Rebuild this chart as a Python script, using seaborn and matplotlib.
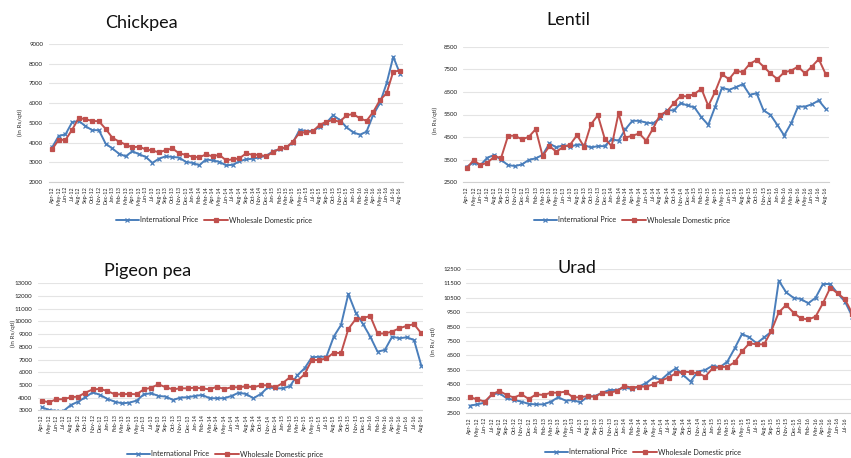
"""
Pulse prices: international vs wholesale domestic (Rs/qtl), Apr-12 to Aug-16.
Four panels laid out like the original composite screenshot.
"""

import matplotlib.pyplot as plt
import pandas as pd
import seaborn as sns
from matplotlib.patches import Rectangle

# ---------------------------------------------------------------------------
# Data
# ---------------------------------------------------------------------------
MONTHS = [
    "Apr-12", "May-12", "Jun-12", "Jul-12", "Aug-12", "Sep-12", "Oct-12", "Nov-12", "Dec-12",
    "Jan-13", "Feb-13", "Mar-13", "Apr-13", "May-13", "Jun-13", "Jul-13", "Aug-13", "Sep-13",
    "Oct-13", "Nov-13", "Dec-13", "Jan-14", "Feb-14", "Mar-14", "Apr-14", "May-14", "Jun-14",
    "Jul-14", "Aug-14", "Sep-14", "Oct-14", "Nov-14", "Dec-14", "Jan-15", "Feb-15", "Mar-15",
    "Apr-15", "May-15", "Jun-15", "Jul-15", "Aug-15", "Sep-15", "Oct-15", "Nov-15", "Dec-15",
    "Jan-16", "Feb-16", "Mar-16", "Apr-16", "May-16", "Jun-16", "Jul-16", "Aug-16",
]

SERIES = ["International Price", "Wholesale Domestic price"]

CHICKPEA_INTL = [3750, 4340, 4410, 5030, 5100, 4830, 4630, 4630, 3950, 3700, 3440, 3300, 3560, 3410,
                 3270, 2970, 3190, 3300, 3270, 3240, 3020, 2970, 2850, 3140, 3100, 3020, 2850, 2870,
                 3050, 3150, 3180, 3250, 3330, 3550, 3650, 3750, 4000, 4650, 4580, 4600, 4800, 5000,
                 5380, 5150, 4780, 4520, 4400, 4550, 5400, 6000, 7000, 8350, 7500]
CHICKPEA_DOM = [3650, 4150, 4130, 4650, 5250, 5180, 5100, 5080, 4700, 4250, 4050, 3900, 3750, 3800,
                3650, 3600, 3500, 3620, 3700, 3450, 3380, 3280, 3250, 3400, 3300, 3380, 3100, 3150,
                3200, 3450, 3380, 3380, 3300, 3500, 3700, 3750, 4050, 4500, 4520, 4580, 4900, 5050,
                5150, 5050, 5380, 5450, 5230, 5100, 5550, 6150, 6500, 7600, 7650]

LENTIL_INTL = [3190, 3370, 3260, 3590, 3710, 3490, 3260, 3220, 3290, 3490, 3560, 3710, 4220, 4040,
               4150, 4070, 4170, 4150, 4040, 4100, 4100, 4410, 4340, 4850, 5220, 5220, 5140, 5110,
               5330, 5700, 5680, 6000, 5900, 5810, 5380, 5040, 5850, 6690, 6590, 6710, 6840, 6370,
               6440, 5680, 5490, 5040, 4570, 5110, 5850, 5850, 5950, 6120, 5750]
LENTIL_DOM = [3120, 3480, 3260, 3370, 3630, 3590, 4560, 4560, 4400, 4510, 4850, 3670, 4100, 3850,
              4070, 4170, 4590, 4070, 5060, 5470, 4430, 4100, 5560, 4480, 4560, 4660, 4340, 4880,
              5480, 5630, 6000, 6320, 6300, 6410, 6640, 5880, 6510, 7280, 7060, 7440, 7370, 7740,
              7910, 7620, 7320, 7070, 7370, 7440, 7620, 7320, 7620, 7950, 7290]

PIGEON_INTL = [3240, 3030, 2950, 2950, 3420, 3680, 4030, 4420, 4210, 3900, 3680, 3550, 3600, 3760,
               4260, 4340, 4130, 4080, 3810, 4000, 4030, 4130, 4210, 3950, 3950, 3950, 4130, 4390,
               4280, 3950, 4280, 4810, 4730, 4730, 4900, 5750, 6300, 7170, 7220, 7220, 8800, 9720,
               12160, 10700, 9800, 8800, 7620, 7750, 8800, 8670, 8750, 8530, 6500]
PIGEON_DOM = [3760, 3630, 3870, 3870, 4030, 4080, 4390, 4650, 4680, 4520, 4260, 4260, 4290, 4260,
              4650, 4780, 5050, 4810, 4650, 4730, 4730, 4780, 4730, 4650, 4860, 4680, 4810, 4810,
              4890, 4810, 4970, 4970, 4810, 5140, 5600, 5300, 5840, 6960, 6960, 7080, 7540, 7500,
              9400, 10170, 10250, 10430, 9050, 9050, 9200, 9460, 9650, 9780, 9050]

URAD_INTL = [3010, 3100, 3220, 3800, 3870, 3520, 3400, 3290, 3130, 3100, 3100, 3290, 3590, 3360,
             3400, 3240, 3630, 3680, 3910, 4100, 4100, 4260, 4170, 4330, 4600, 4980, 4800, 5260,
             5600, 5140, 4680, 5380, 5490, 5790, 5680, 6070, 6990, 7990, 7750, 7340, 7750, 8150,
             11690, 10880, 10500, 10420, 10120, 10500, 11460, 11460, 10810, 10230, 9200]
URAD_DOM = [3590, 3450, 3290, 3800, 4030, 3750, 3570, 3800, 3470, 3800, 3750, 3910, 3910, 3980,
            3590, 3590, 3680, 3630, 3910, 3910, 4030, 4380, 4260, 4330, 4330, 4510, 4750, 4960,
            5260, 5380, 5330, 5260, 5030, 5600, 5680, 5720, 6020, 6780, 7340, 7270, 7270, 8220,
            9490, 10000, 9470, 9070, 9000, 9190, 10120, 11200, 10810, 10400, 9400]

# ---------------------------------------------------------------------------
# Styling
# ---------------------------------------------------------------------------
W, H = 851, 458
BLUE = "#4a7ebb"
RED = "#c0504d"
GRID = "#e4e4e4"
STYLES = {SERIES[0]: (BLUE, "x", 2.6), SERIES[1]: (RED, "s", 3.0)}

sns.set_theme(style="white")
plt.rcParams["font.family"] = ["Lato", "DejaVu Sans"]


def px_box(left, top, right, bottom):
    """Pixel box (from top-left) -> figure-fraction [x, y, w, h]."""
    return [left / W, 1 - bottom / H, (right - left) / W, (bottom - top) / H]


def fig_xy(x, y):
    return x / W, 1 - y / H


def draw_panel(fig, box, title, title_xy, intl, dom, yticks, ylabel, ylabel_xy, legend_xy,
               zorder=0, n_labels=None):
    ax = fig.add_axes(px_box(*box), zorder=zorder)
    df = pd.DataFrame({"month": range(len(MONTHS)), SERIES[0]: intl, SERIES[1]: dom})

    for name in SERIES:
        color, marker, size = STYLES[name]
        sns.lineplot(
            data=df, x="month", y=name, color=color, marker=marker, markersize=size,
            markeredgewidth=0.9, markeredgecolor=color, linewidth=1.4, label=name,
            legend=False, ax=ax,
        )

    # legend below the plot, no frame
    ax.legend(
        loc="center", bbox_to_anchor=fig_xy(*legend_xy),
        bbox_transform=fig.transFigure, ncol=2, frameon=False, fontsize=5.2,
        handlelength=3.2, handletextpad=0.2, columnspacing=0.8,
    )

    # screenshot crop: months past n_labels fall outside the picture
    labels = list(MONTHS)
    if n_labels is not None:
        labels = labels[:n_labels] + [""] * (len(MONTHS) - n_labels)
    ax.set_xlim(-0.5, len(MONTHS) - 0.5)
    ax.set_xticks(range(len(MONTHS)))
    ax.set_xticklabels(labels, rotation=90)
    ax.set_ylim(yticks[0], yticks[-1])
    ax.set_yticks(yticks)
    ax.set_xlabel("")
    ax.set_ylabel(ylabel, fontsize=4.6, color="#333333", va="center")
    ax.yaxis.set_label_coords(*fig_xy(*ylabel_xy), transform=fig.transFigure)

    ax.yaxis.grid(True, color=GRID, linewidth=0.8)
    ax.xaxis.grid(False)
    for side in ["top", "right", "left"]:
        ax.spines[side].set_visible(False)
    ax.spines["bottom"].set_color("#d0d0d0")
    ax.spines["bottom"].set_linewidth(0.8)
    ax.tick_params(axis="y", length=0, pad=4, labelsize=4.4, labelcolor="#222222")
    ax.tick_params(axis="x", length=2, width=0.5, color="#d0d0d0", pad=1, labelsize=3.8,
                   labelcolor="#222222")

    fig.text(*fig_xy(*title_xy), title, ha="center", va="center", fontsize=13, color="#111111")
    return ax


def main() -> None:
    fig = plt.figure(figsize=(W / 100, H / 100), dpi=100)
    fig.patch.set_facecolor("white")

    draw_panel(fig, (48.7, 44, 403.3, 182), "Chickpea", (141, 23),
               CHICKPEA_INTL, CHICKPEA_DOM, list(range(2000, 9001, 1000)),
               "(in Rs/qtl)", (20, 122), (214, 220))
    draw_panel(fig, (463.2, 46.7, 829.1, 182.3), "Lentil", (568, 20),
               LENTIL_INTL, LENTIL_DOM, list(range(2500, 8501, 1000)),
               "(in Rs/qtl)", (435, 120), (632, 220))
    draw_panel(fig, (38, 283.3, 425, 410.3), "Pigeon pea", (148, 271),
               PIGEON_INTL, PIGEON_DOM, list(range(3000, 13001, 1000)),
               "(in Rs/qtl)", (13, 333), (225, 454), zorder=0)

    # the urad screenshot sits on top of the cut-off right edge of the pigeon pea one
    fig.patches.append(Rectangle((423 / W, 0), 1 - 423 / W, 0.5, transform=fig.transFigure,
                                 facecolor="white", edgecolor="none", zorder=1))

    draw_panel(fig, (466.3, 269, 856, 413), "Urad", (577, 268),
               URAD_INTL, URAD_DOM, list(range(2500, 12501, 1000)),
               "(in Rs/ qtl)", (433, 342), (643, 452), zorder=2, n_labels=52)

    fig.savefig("out.png", dpi=100)
    plt.close(fig)


if __name__ == "__main__":
    main()
